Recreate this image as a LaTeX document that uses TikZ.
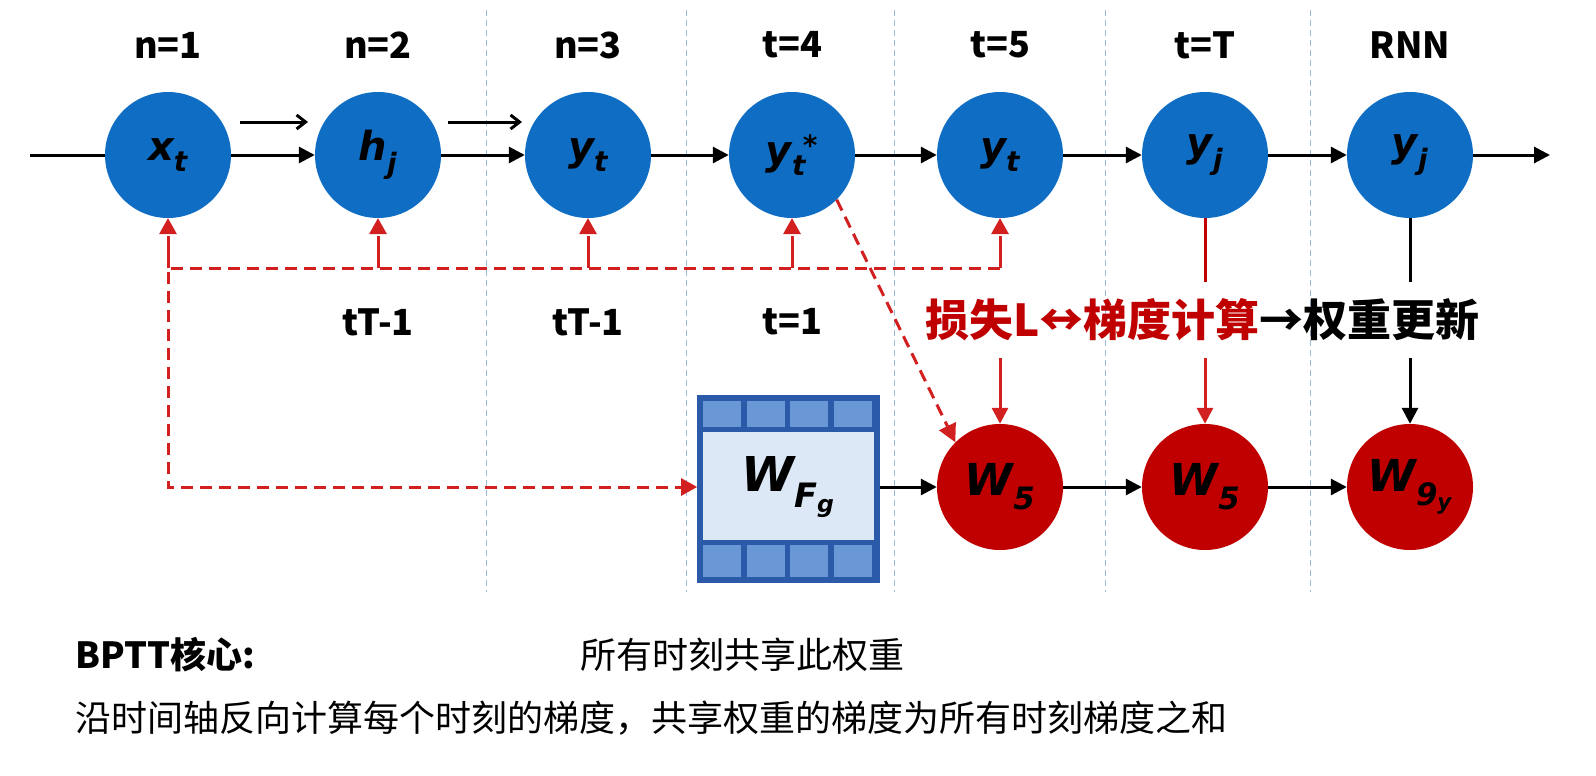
\documentclass[tikz,border=0pt]{standalone}
\usepackage{fontspec}
\setmainfont{Noto Sans}
\newfontfamily\cjk{Noto Sans CJK SC}
\newfontfamily\dv{DejaVu Sans}
\usetikzlibrary{arrows.meta,calc}
\definecolor{nblue}{HTML}{0F6EC4}
\definecolor{nred}{HTML}{C00000}
\definecolor{dred}{HTML}{D22020}
\definecolor{gridc}{HTML}{9DB9DD}
\definecolor{boxb}{HTML}{2A5AA8}
\definecolor{cellc}{HTML}{6A98D6}
\definecolor{boxin}{HTML}{DCE8F6}
\newcommand{\vr}[2]{#1\textsubscript{#2}}
\begin{document}
\begin{tikzpicture}[x=1pt,y=-1pt,
  bn/.style={circle,fill=nblue,minimum size=126pt,inner sep=0pt,font=\fontsize{40}{40}\selectfont\dv\bfseries\itshape},
  rn/.style={circle,fill=nred,minimum size=126pt,inner sep=0pt,font=\fontsize{44}{44}\selectfont\dv\bfseries\itshape},
  lab/.style={font=\fontsize{36}{36}\selectfont\cjk\bfseries},
  arr/.style={line width=3pt,-{Triangle[length=16pt,width=16pt]}},
  rarr/.style={line width=3pt,dred,-{Triangle[length=16pt,width=16pt]}},
  rdash/.style={line width=3pt,dred,dash pattern=on 12pt off 7pt},
  grid/.style={gridc,line width=1pt,dash pattern=on 6pt off 4pt}]
\useasboundingbox (0,0) rectangle (1596,776);
\fill[white] (0,0) rectangle (1596,776);
\foreach \x in {486,686,894,1105,1310} \draw[grid] (\x,10) -- (\x,592);
% labels
\foreach \x/\t in {168/n=1,378/n=2,588/n=3,792/t=4,1000/t=5,1205/t=T,1410/RNN}
  \node[lab] at (\x,45) {\t};
\node[lab] (l1) at (378,322) {tT-1};
\node[lab] (l2) at (588,322) {tT-1};
\node[lab] (l3) at (792,322) {t=1};
% blue nodes
\node[bn] (a) at (168,155) {\vr{x}{t}};
\node[bn] (b) at (378,155) {\vr{h}{j}};
\node[bn] (c) at (588,155) {\vr{y}{t}};
\node[bn] (d) at (792,155) {y\textsubscript{t}\kern-3pt\textsuperscript{*}};
\node[bn] (e) at (1000,155) {\vr{y}{t}};
\node[bn] (f) at (1205,155) {\vr{y}{j}};
\node[bn] (g) at (1410,155) {\vr{y}{j}};
\coordinate (s) at (30,155);
\coordinate (end) at (1550,155);
\draw[line width=3pt] (s) -- (a);
\draw[arr] (a) -- (b);
\draw[arr] (b) -- (c);
\draw[arr] (c) -- (d);
\draw[arr] (d) -- (e);
\draw[arr] (e) -- (f);
\draw[arr] (f) -- (g);
\draw[arr] (g) -- (end);
\coordinate (s1) at (240,122); \coordinate (e1) at (308,122);
\coordinate (s2) at (448,122); \coordinate (e2) at (522,122);
\draw[line width=3pt,-{Straight Barb[length=9pt,width=14pt]}] (s1) -- (e1);
\draw[line width=3pt,-{Straight Barb[length=9pt,width=14pt]}] (s2) -- (e2);
% red nodes
\node[rn] (w1) at (1000,487) {\vr{W}{5}};
\node[rn] (w2) at (1205,487) {\vr{W}{5}};
\node[rn] (w3) at (1410,487) {W\textsubscript{9\textsubscript{y}}};
% box
\fill[boxb] (697,395) rectangle (880,583);
\fill[boxin] (703,432) rectangle (874,540);
\foreach \i in {0,1,2,3}{
  \fill[cellc] (703+\i*43.5,401) rectangle (741+\i*43.5,427);
  \fill[cellc] (703+\i*43.5,545) rectangle (741+\i*43.5,577);}
\node[font=\fontsize{48}{48}\selectfont\dv\bfseries\itshape] (box) at (788,487) {W\textsubscript{F\textsubscript{g}}};
\coordinate (boxL) at (697,487);
\coordinate (boxR) at (880,487);
\draw[arr] (boxR) -- (w1);
\draw[arr] (w1) -- (w2);
\draw[arr] (w2) -- (w3);
% red dashed feedback
\coordinate (h0) at (168,268);
\coordinate (h1) at (1000,268);
\coordinate (v0) at (168,487);
\draw[rdash] (h1) -- (h0) -- (v0) -- ($(boxL)+(-14,0)$);
\fill[dred] (boxL) -- ++(-16,-9) -- ++(0,18) -- cycle;
\foreach \x/\n in {168/a,378/b,588/c,792/d,1000/e}{
  \draw[line width=3pt,dred] (\x,268) -- (\x,236);
  \fill[dred] (\n.south) -- ++(-9,16) -- ++(18,0) -- cycle;}
\draw[rdash,-{Triangle[length=18pt,width=18pt]}] (d.south east) -- (w1.north west);
% middle text
\node[font=\fontsize{44}{44}\selectfont\bfseries\cjk,anchor=west,inner sep=0pt] (mt) at (925,320)
  {\textcolor{nred}{损失L↔梯度计算}→权重更新};
\draw[line width=3pt,nred] (f) -- (1205,282);
\draw[line width=3pt] (g) -- (1410,282);
\draw[rarr] (1000,358) -- (w1);
\draw[rarr] (1205,358) -- (w2);
\draw[arr] (1410,358) -- (w3);
% bottom text
\node[font=\fontsize{36}{36}\selectfont\bfseries\cjk,anchor=west,inner sep=0pt] at (75,655) {BPTT核心:};
\node[font=\fontsize{36}{36}\selectfont\cjk,anchor=west,inner sep=0pt] at (580,655) {所有时刻共享此权重};
\node[font=\fontsize{36}{36}\selectfont\cjk,anchor=west,inner sep=0pt] at (75,718) {沿时间轴反向计算每个时刻的梯度，共享权重的梯度为所有时刻梯度之和};
\end{tikzpicture}
\end{document}
